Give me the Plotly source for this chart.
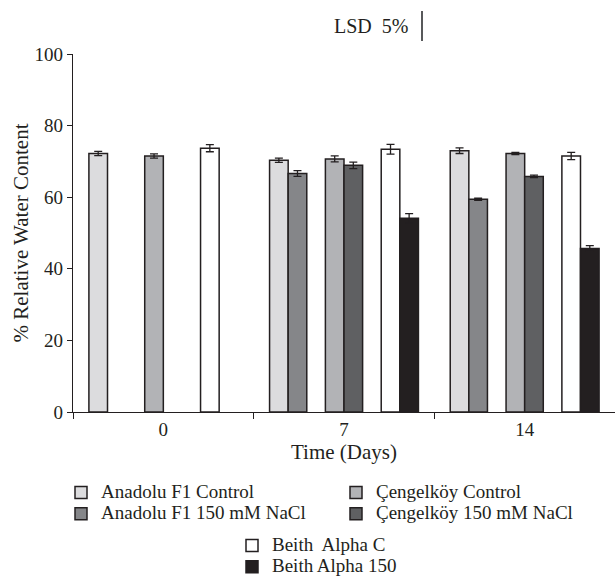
import plotly.graph_objects as go

days = ["0", "7", "14"]
series_names = [
    "Anadolu F1 Control",
    "Anadolu F1 150 mM NaCl",
    "Çengelköy Control",
    "Çengelköy 150 mM NaCl",
    "Beith\u00a0 Alpha C",
    "Beith Alpha 150",
]
anadolu_c = [72.2, 70.3, 73.0]
anadolu_150 = [None, 66.6, 59.4]
cengelkoy_c = [71.5, 70.7, 72.2]
cengelkoy_150 = [None, 68.9, 65.8]
beith_c = [73.7, 73.4, 71.5]
beith_150 = [None, 54.1, 45.7]

anadolu_c_err = [0.6, 0.6, 0.8]
anadolu_150_err = [0, 0.8, 0.3]
cengelkoy_c_err = [0.6, 0.85, 0.3]
cengelkoy_150_err = [0, 0.9, 0.35]
beith_c_err = [1.0, 1.35, 1.0]
beith_150_err = [0, 1.3, 0.8]

lsd_5 = 8.4

values = [anadolu_c, anadolu_150, cengelkoy_c, cengelkoy_150, beith_c, beith_150]
errors = [anadolu_c_err, anadolu_150_err, cengelkoy_c_err, cengelkoy_150_err, beith_c_err, beith_150_err]
colors = ["#dcdcde", "#858689", "#b2b3b6", "#5f6062", "#ffffff", "#231f20"]
slots = [0, 1, 3, 4, 6, 7]
legends = ["legend", "legend", "legend2", "legend2", "legend3", "legend3"]

FONT = "Liberation Serif"
TXT = "#231f20"
bw = 0.103
LEG_PX = 19

W, H = 615, 578
L, R, T, B = 73, 0, 54, 166
plot_w = W - L - R
plot_h = H - T - B


def px_x(p):
    return (p - L) / plot_w


def px_y(p):
    return (H - B - p) / plot_h


fig = go.Figure()
for name, v, e, c, s, lg in zip(series_names, values, errors, colors, slots, legends):
    fig.add_trace(go.Bar(
        x=days, y=v, name=f'<span style="font-size:{LEG_PX}px">{name}</span>',
        offset=(s - 4) * bw, width=bw,
        marker=dict(color=c, line=dict(color="#231f20", width=1.5)),
        error_y=dict(type="data", array=e, color="#231f20", thickness=1.3, width=4),
        legend=lg,
    ))

leg_common = dict(xanchor="left", yanchor="top", font=dict(size=14, family=FONT, color=TXT),
                  bgcolor="rgba(0,0,0,0)", itemclick=False, tracegroupgap=0)

fig.update_layout(
    width=W, height=H,
    margin=dict(l=L, r=R, t=T, b=B, autoexpand=False),
    paper_bgcolor="white", plot_bgcolor="white",
    font=dict(family=FONT, color=TXT, size=19),
    barmode="overlay",
    showlegend=True,
    xaxis=dict(
        type="category", categoryorder="array", categoryarray=days,
        range=[-0.5, 2.5], tickson="boundaries",
        ticks="outside", ticklen=6, tickcolor="#231f20", tickwidth=1.2,
        showline=True, linecolor="#231f20", linewidth=1.2,
        showgrid=False, zeroline=False,
        title=dict(text="Time (Days)", standoff=2, font=dict(size=21)),
        tickfont=dict(size=19),
        fixedrange=True,
    ),
    yaxis=dict(
        range=[0, 100], tickvals=[0, 20, 40, 60, 80, 100], ticks="outside", ticklen=5,
        tickcolor="#231f20", tickwidth=1.2,
        showline=True, linecolor="#231f20", linewidth=1.2,
        showgrid=False, zeroline=False,
        title=dict(text="% Relative Water Content", standoff=0, font=dict(size=21)),
        tickfont=dict(size=19),
    ),
    legend=dict(x=px_x(61), y=px_y(477), **leg_common),
    legend2=dict(x=px_x(336), y=px_y(477), **leg_common),
    legend3=dict(x=px_x(232), y=px_y(530), **leg_common),
)

# LSD 5% indicator: vertical bar whose length equals the LSD value in y-axis units
lsd_base = px_y(41)
fig.add_shape(type="line", xref="paper", yref="paper",
              x0=px_x(422), x1=px_x(422),
              y0=lsd_base, y1=lsd_base + lsd_5 / 100.0,
              line=dict(color="#58595b", width=2))
fig.add_annotation(text="LSD\u00a0 5%", xref="paper", yref="paper",
                   x=px_x(371), y=px_y(26),
                   showarrow=False, font=dict(size=20, family=FONT, color=TXT),
                   xanchor="center", yanchor="middle")

fig.write_html("out.html", config={"displayModeBar": False},
               post_script="document.body.style.margin='0';")
